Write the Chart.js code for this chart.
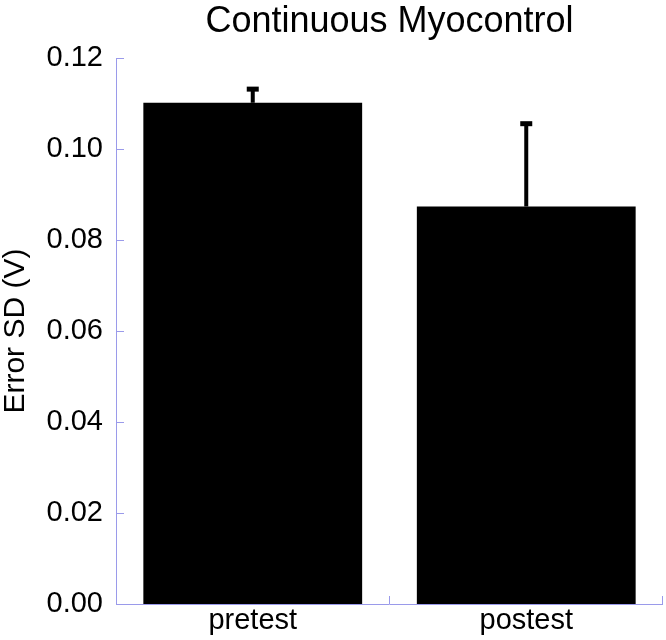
<!DOCTYPE html>
<html>
<head>
<meta charset="utf-8">
<script src="https://cdn.jsdelivr.net/npm/chart.js@4.4.0/dist/chart.umd.min.js"></script>
<style>
  html, body { margin: 0; padding: 0; background: #ffffff; }
  #wrap { width: 666px; height: 640px; }
</style>
</head>
<body>
<div id="wrap"><canvas id="c" width="666" height="640"></canvas></div>
<script>
const categories = ["pretest", "postest"];
const meanValues = [0.1102, 0.0874];
const errorValues = [0.0030, 0.0182];
const yTicks = [0.00, 0.02, 0.04, 0.06, 0.08, 0.10, 0.12];

const AXIS_COLOR = "#9a9aea";
const FONT = "'Liberation Sans', Arial, sans-serif";

const axesPlugin = {
  id: "customAxes",
  afterDraw(chart) {
    const ctx = chart.ctx;
    const xs = chart.scales.x, ys = chart.scales.y;
    const a = chart.chartArea;
    ctx.save();
    ctx.strokeStyle = AXIS_COLOR;
    ctx.lineWidth = 1;
    ctx.beginPath();
    ctx.moveTo(a.left + 0.5, a.top);
    ctx.lineTo(a.left + 0.5, a.bottom);
    ctx.moveTo(a.left, a.bottom + 0.5);
    ctx.lineTo(a.right, a.bottom + 0.5);
    yTicks.forEach(v => {
      const y = Math.round(ys.getPixelForValue(v)) + 0.5;
      ctx.moveTo(a.left, y);
      ctx.lineTo(a.left + 8, y);
    });
    const n = categories.length;
    for (let i = 1; i <= n; i++) {
      const x = Math.round(xs.getPixelForValue(i - 0.5)) - 0.5;
      ctx.moveTo(x, a.bottom);
      ctx.lineTo(x, a.bottom - 8);
    }
    ctx.stroke();
    ctx.restore();
  }
};

const errorBarPlugin = {
  id: "errorBars",
  afterDatasetsDraw(chart) {
    const ctx = chart.ctx;
    const ys = chart.scales.y;
    const meta = chart.getDatasetMeta(0);
    ctx.save();
    ctx.fillStyle = "#000000";
    meta.data.forEach((bar, i) => {
      const x = bar.x;
      const yTop = ys.getPixelForValue(meanValues[i] + errorValues[i]);
      const yBase = ys.getPixelForValue(meanValues[i]);
      ctx.fillRect(x - 2, yTop, 4, yBase - yTop);
      ctx.fillRect(x - 6, yTop - 2.5, 12, 5);
    });
    ctx.restore();
  }
};

new Chart(document.getElementById("c"), {
  type: "bar",
  data: {
    labels: categories,
    datasets: [{
      data: meanValues,
      backgroundColor: "#000000",
      borderWidth: 0,
      barPercentage: 0.8,
      categoryPercentage: 1.0
    }]
  },
  options: {
    responsive: false,
    animation: false,
    devicePixelRatio: 1,
    layout: { padding: { top: 0, right: 3, bottom: 0, left: 0 } },
    plugins: {
      legend: { display: false },
      tooltip: { enabled: false },
      title: {
        display: true,
        text: "Continuous Myocontrol",
        fullSize: false,
        color: "#000000",
        font: { family: FONT, size: 36, weight: "normal", lineHeight: 1.2 },
        padding: { top: 0, bottom: 15 }
      }
    },
    scales: {
      x: {
        grid: { display: false, drawTicks: false },
        border: { display: false },
        ticks: { color: "#000000", font: { family: FONT, size: 29 }, padding: 0 },
        afterFit(scale) { scale.height = 36; }
      },
      y: {
        min: 0,
        max: 0.12,
        afterBuildTicks(scale) { scale.ticks = yTicks.map(v => ({ value: v })); },
        grid: { display: false, drawTicks: false },
        border: { display: false },
        ticks: {
          color: "#000000",
          font: { family: FONT, size: 29 },
          padding: 13,
          callback: v => Number(v).toFixed(2)
        },
        title: {
          display: true,
          text: "Error SD (V)",
          color: "#000000",
          font: { family: FONT, size: 30, lineHeight: 1.0 },
          padding: { top: 1, bottom: 0 }
        },
        afterFit(scale) { scale.width = 116; }
      }
    }
  },
  plugins: [axesPlugin, errorBarPlugin]
});
</script>
</body>
</html>
